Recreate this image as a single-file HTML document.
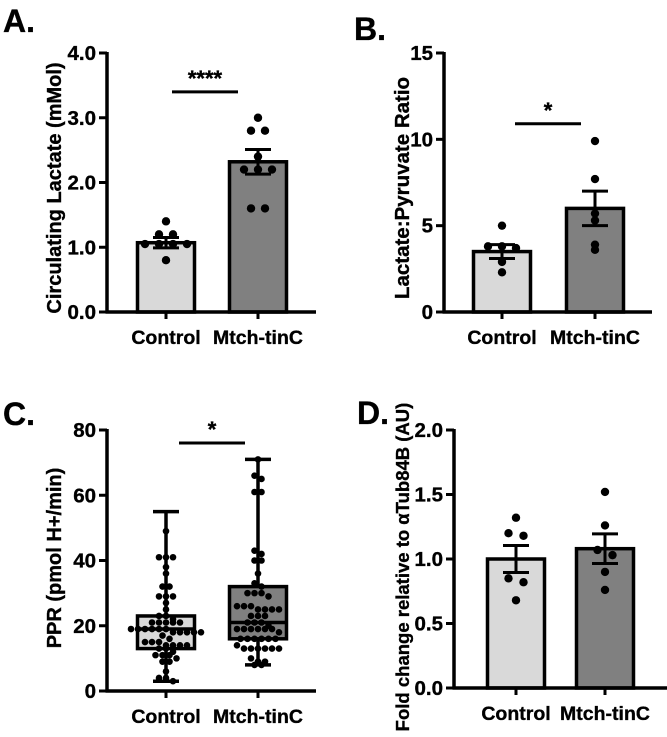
<!DOCTYPE html>
<html><head><meta charset="utf-8"><style>
html,body{margin:0;padding:0;background:#fff;}
svg{display:block;font-family:"Liberation Sans",Arial,sans-serif;font-weight:bold;}
svg text{stroke:#000;stroke-width:0.35px;}
</style></head><body>
<svg id="fig" width="667" height="737" viewBox="0 0 667 737">
<text x="3" y="32" font-size="32">A.</text>
<text x="354" y="40" font-size="32">B.</text>
<text x="3" y="425" font-size="32">C.</text>
<text x="357" y="424" font-size="32">D.</text>
</svg>
<script>
const categories = ["Control","Mtch-tinC"];
// Panel A
const aMeans = [1.07, 2.32];
const aSem = [0.08, 0.19];
const aPoints = [[1.4,1.2,1.2,1.05,1.05,1.05,1.05,0.8],[3.0,2.8,2.8,2.4,2.2,2.2,2.2,1.6,1.6]];
const aTicks = ["0.0","1.0","2.0","3.0","4.0"];
// Panel B
const bMeans = [3.5, 6.0];
const bSem = [0.4, 1.0];
const bPoints = [[5.0,3.8,3.8,3.7,2.9,2.3],[9.9,7.7,5.7,5.3,3.9,3.6]];
const bTicks = ["0","5","10","15"];
// Panel C (box: min,q1,median,q3,max)
const cBoxMin = [3, 8];
const cBoxQ1 = [13, 16];
const cBoxMed = [19, 21];
const cBoxQ3 = [23, 32];
const cBoxMax = [55, 71];
const cPoints = [
 [49,41,41,41,38,36,32,32,29,29,29,27,25,23,23,22,21,21,21,21,21,19,19,19,19,19,19,18,18,18,18,18,17,16,15,15,15,14,14,14,14,13,13,12,11,11,11,10,9,9,6,4,4,3],
 [71,66,65,61,61,43,42,40,40,36,33,32,30,30,30,29,26,26,26,25,25,25,25,23,23,23,21,21,21,20,19,19,19,19,19,19,18,16,16,16,16,16,16,14,13,13,13,13,13,13,10,9,9,8,8]];
const cTicks = ["0","20","40","60","80"];
// Panel D
const dMeans = [1.0, 1.08];
const dSem = [0.105, 0.115];
const dPoints = [[1.32,1.2,1.18,0.85,0.82,0.68],[1.52,1.26,1.07,1.03,0.9,0.76]];
const dTicks = ["0.0","0.5","1.0","1.5","2.0"];

const svg = document.getElementById('fig');
const NS = 'http://www.w3.org/2000/svg';
function mk(tag, attrs, parent){const e=document.createElementNS(NS,tag);for(const k in attrs)e.setAttribute(k,attrs[k]);(parent||svg).appendChild(e);return e;}
const fills = ['#d9d9d9','#808080'];

function panel(p){
  const g = mk('g',{});
  
  
  const y = v => p.y0 - (v - p.vmin)/(p.vmax - p.vmin)*(p.y0 - p.y1);
  categories.forEach((c,i)=>{
    const cx = p.cx[i];
    if(p.means){
      const r = mk('rect',{x:cx-p.bw/2,y:y(p.means[i]),width:p.bw,height:p.y0-y(p.means[i]),fill:fills[i],stroke:'#000','stroke-width':3.5},g);
      
      
    } else {
      const w = mk('line',{x1:cx,x2:cx,y1:y(cBoxMin[i]),y2:y(cBoxMax[i]),stroke:'#000','stroke-width':3.5},g);
      
      
      [cBoxMin[i],cBoxMax[i]].forEach(v=>mk('line',{x1:cx-13,x2:cx+13,y1:y(v),y2:y(v),stroke:'#000','stroke-width':3.5},g));
      const b = mk('rect',{x:cx-p.bw/2,y:y(cBoxQ3[i]),width:p.bw,height:y(cBoxQ1[i])-y(cBoxQ3[i]),fill:fills[i],stroke:'#000','stroke-width':3.5},g);
      
      
      mk('line',{x1:cx-p.bw/2,x2:cx+p.bw/2,y1:y(cBoxMed[i]),y2:y(cBoxMed[i]),stroke:'#000','stroke-width':3.5},g);
    }
    // group points within tolerance for jitter
    const pts = p.points[i].slice().sort((a,b)=>b-a);
    const groups = [];
    pts.forEach(v=>{
      const last = groups[groups.length-1];
      if(last && Math.abs(last[0]-v) <= p.tol) last.push(v); else groups.push([v]);
    });
    groups.forEach(gr=>{
      const n = gr.length;
      gr.forEach((v,j)=>{
        const off = (j-(n-1)/2)*p.jit;
        const d = mk('circle',{cx:cx+off,cy:y(v),r:p.pr,fill:'#000'},g);
        
        
      });
    });
    if(p.means){
      const m=p.means[i], s=p.sem[i];
      mk('line',{x1:cx,x2:cx,y1:y(m+s),y2:y(m-s),stroke:'#000','stroke-width':3},g);
      [m+s,m-s].forEach(v=>mk('line',{x1:cx-13,x2:cx+13,y1:y(v),y2:y(v),stroke:'#000','stroke-width':3},g));
    }
    mk('line',{x1:cx,x2:cx,y1:p.y0,y2:p.y0+7,stroke:'#000','stroke-width':3},g);
    const t = mk('text',{x:cx,y:p.y0+32,'text-anchor':'middle','font-size':19.5},g);
    t.textContent = c;
    
    
  });
  const ya = mk('line',{x1:p.x0,x2:p.x0,y1:p.y1-1,y2:p.y0+1.5,stroke:'#000','stroke-width':3.5},g);
  
  
  const xa = mk('line',{x1:p.x0-1.5,x2:p.xe,y1:p.y0,y2:p.y0,stroke:'#000','stroke-width':3.5},g);
  
  
  p.ticks.forEach((tl,k)=>{
    const v = p.vmin + k*(p.vmax-p.vmin)/(p.ticks.length-1);
    mk('line',{x1:p.x0-8,x2:p.x0,y1:y(v),y2:y(v),stroke:'#000','stroke-width':3},g);
    const t = mk('text',{x:p.x0-11,y:y(v)+7,'text-anchor':'end','font-size':20.5},g);
    t.textContent = tl;
    
    
  });
  const yt = mk('text',{x:0,y:0,'text-anchor':'middle','font-size':p.tfs,transform:`translate(${p.tx},${p.ty}) rotate(-90)`},g);
  yt.innerHTML = p.title;
  
  
  if(p.sig){
    mk('line',{x1:p.sig.x1,x2:p.sig.x2,y1:y(p.sig.v),y2:y(p.sig.v),stroke:'#000','stroke-width':3},g);
    const s = mk('text',{x:(p.sig.x1+p.sig.x2)/2,y:y(p.sig.v)-6,'text-anchor':'middle','font-size':22},g);
    s.textContent = p.sig.txt;
    
    
  }
}

panel({name:'panel-a',x0:107,xe:316,y0:312,y1:53,vmin:0,vmax:4,cx:[166,258],bw:57,means:aMeans,sem:aSem,points:aPoints,tol:0.05,jit:14,pr:4.2,ticks:aTicks,
  title:'Circulating Lactate (mMol)',tfs:20,tx:61,ty:188,sig:{x1:172,x2:238,v:3.4,txt:'****'}});
panel({name:'panel-b',x0:444,xe:652,y0:312,y1:53,vmin:0,vmax:15,cx:[502,595],bw:57,means:bMeans,sem:bSem,points:bPoints,tol:0.15,jit:14,pr:4.2,ticks:bTicks,
  title:'Lactate:Pyruvate Ratio',tfs:20.5,tx:409,ty:188,sig:{x1:515,x2:581,v:10.9,txt:'*'}});
panel({name:'panel-c',x0:107,xe:316,y0:691,y1:430,vmin:0,vmax:80,cx:[166,258],bw:57,means:null,points:cPoints,tol:1.2,jit:7,pr:3.3,ticks:cTicks,
  title:'PPR (pmol H+/min)',tfs:20,tx:61,ty:558,sig:{x1:179,x2:245,v:76,txt:'*'}});
panel({name:'panel-d',x0:454,xe:667,y0:688,y1:430,vmin:0,vmax:2,cx:[516,605],bw:57,means:dMeans,sem:dSem,points:dPoints,tol:0.05,jit:15,pr:4.2,ticks:dTicks,
  title:'Fold change relative to &#945;Tub84B (AU)',tfs:18.5,tx:409,ty:567,sig:null});
</script>
</body></html>
